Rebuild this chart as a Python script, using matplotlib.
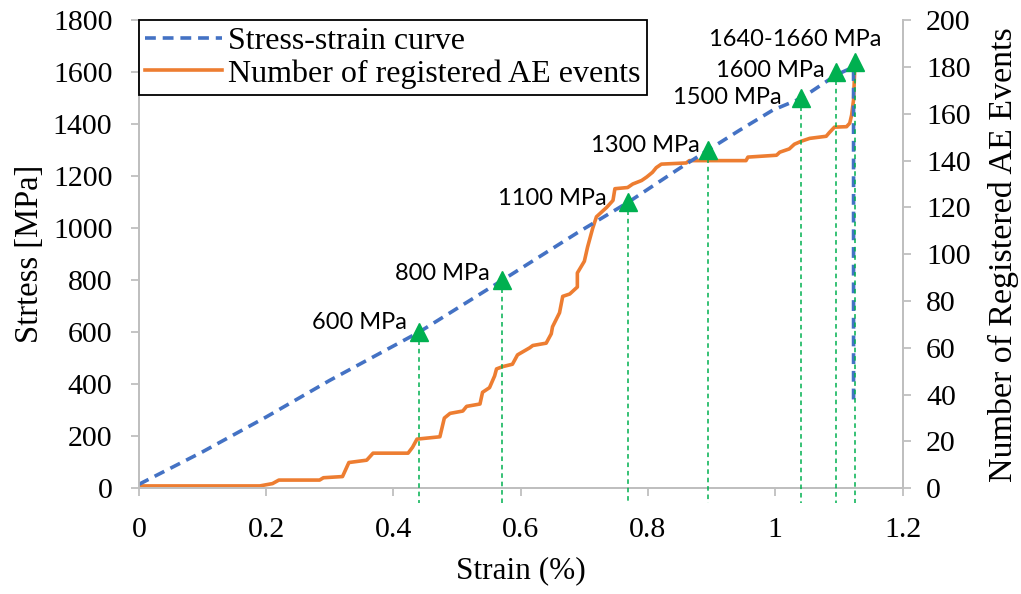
import matplotlib.pyplot as plt
import numpy as np

# stress-strain curve (strain %, stress MPa)
strain = [0, 0.1, 0.2, 0.3, 0.44, 0.571, 0.688, 0.769, 0.845, 0.894, 0.944,
          0.996, 1.041, 1.096, 1.123, 1.123]
stress = [15, 140, 274, 415, 600, 800, 981, 1100, 1223, 1300, 1377,
          1454, 1500, 1590, 1620, 330]

# cumulative AE events
ae_strain = [0, 0.19, 0.21, 0.22, 0.284, 0.29, 0.32, 0.33, 0.358, 0.368, 0.423,
             0.43, 0.437, 0.473, 0.48, 0.489, 0.509, 0.515, 0.536, 0.54, 0.551,
             0.559, 0.562, 0.572, 0.587, 0.595, 0.614, 0.619, 0.64, 0.648, 0.65,
             0.661, 0.666, 0.677, 0.689, 0.689, 0.7, 0.705, 0.713, 0.719, 0.735,
             0.745, 0.748, 0.768, 0.776, 0.79, 0.798, 0.807, 0.813, 0.821, 0.86,
             0.865, 0.954, 0.957, 1.002, 1.007, 1.022, 1.03, 1.041, 1.054, 1.08,
             1.085, 1.093, 1.112, 1.117, 1.12, 1.123, 1.125]
ae_count = [1, 1, 2, 3.5, 3.5, 4.5, 5, 11, 12, 15, 15,
            17.5, 21, 22, 30, 32, 33, 35, 36, 41, 43,
            48, 51, 52, 53, 57, 60, 61, 62, 66, 69,
            75, 82, 83, 86, 92, 97, 103, 111, 116, 120,
            123, 128, 128.5, 130, 131.5, 133, 135, 137, 138.5, 139,
            140, 140, 141.5, 142.3, 143.6, 145, 147, 148.3, 149.5, 150.4,
            152, 154.3, 154.5, 156, 159.5, 166, 180]

# marked stress levels
mark_strain = [0.44, 0.571, 0.769, 0.894, 1.041, 1.096, 1.125]
mark_stress = [600, 800, 1100, 1300, 1500, 1600, 1640]
mark_labels = ["600 MPa", "800 MPa", "1100 MPa", "1300 MPa", "1500 MPa",
               "1600 MPa", "1640-1660 MPa"]
label_offsets = [(-12, 10), (-13, 7), (-22, 4), (-8, 5), (-20, 1), (-12, 2), (27, 22)]

serif = "Liberation Serif"
blue = "#4472C4"
orange = "#ED7D31"
green = "#00B050"
grey = "#BFBFBF"

fig = plt.figure(figsize=(10.21, 5.94), dpi=100)
ax1 = fig.add_axes([0.136, 0.178, 0.748, 0.788])
ax2 = ax1.twinx()
ax1.set_zorder(ax2.get_zorder() + 1)
ax1.patch.set_visible(False)

ax2.plot(ae_strain, ae_count, color=orange, lw=2.6, solid_joinstyle="round",
         label="Number of registered AE events")
l1, = ax1.plot(strain, stress, color=blue, lw=2.6, linestyle=(0, (3, 1.9)),
               label="Stress-strain curve")
l2, = ax1.plot([], [], color=orange, lw=2.6, label="Number of registered AE events")

for x, y in zip(mark_strain, mark_stress):
    ax1.plot([x, x], [y, -55], color=green, lw=1.1, linestyle=(0, (3, 2.5)),
             clip_on=False, zorder=3)
ax1.plot(mark_strain, mark_stress, linestyle="none", marker="^", ms=13.5,
         color=green, zorder=5, clip_on=False)
for x, y, txt, off in zip(mark_strain, mark_stress, mark_labels, label_offsets):
    ax1.annotate(txt, (x, y), xytext=off, textcoords="offset pixels",
                 ha="right", va="center", fontsize=17, family="Lato", zorder=6)

ax1.set_xlim(0, 1.2)
ax1.set_ylim(0, 1800)
ax2.set_ylim(0, 200)
ax1.set_xticks(np.arange(0, 1.21, 0.2))
ax1.set_xticklabels(["0", "0.2", "0.4", "0.6", "0.8", "1", "1.2"])
ax1.set_yticks(np.arange(0, 1801, 200))
ax2.set_yticks(np.arange(0, 201, 20))

for ax in (ax1, ax2):
    ax.spines["top"].set_visible(False)
    for side in ("left", "right", "bottom"):
        ax.spines[side].set_color(grey)
        ax.spines[side].set_linewidth(1.3)
    ax.tick_params(color=grey, width=1.3, length=6, labelsize=21.5)
    for lab in ax.get_xticklabels() + ax.get_yticklabels():
        lab.set_family(serif)
ax1.tick_params(axis="y", pad=13)
ax2.tick_params(axis="y", pad=11)
ax1.tick_params(axis="x", pad=15)

ax1.set_xlabel("Strain (%)", family=serif, fontsize=22.5, labelpad=9)
ax1.set_ylabel("Strtess [MPa]", family=serif, fontsize=23.5, labelpad=6)
ax2.set_ylabel("Number of Registered AE Events", family=serif, fontsize=24.5,
               labelpad=12)

leg = ax1.legend(handles=[l1, l2], loc="upper left", bbox_to_anchor=(0.0, 1.0),
                 borderaxespad=0, fancybox=False, framealpha=1, edgecolor="black",
                 prop={"family": serif, "size": 23}, handlelength=2.4,
                 handletextpad=0.2, borderpad=0.2, labelspacing=0.1)
leg.get_frame().set_linewidth(1.3)

fig.savefig("out.png", dpi=100)
